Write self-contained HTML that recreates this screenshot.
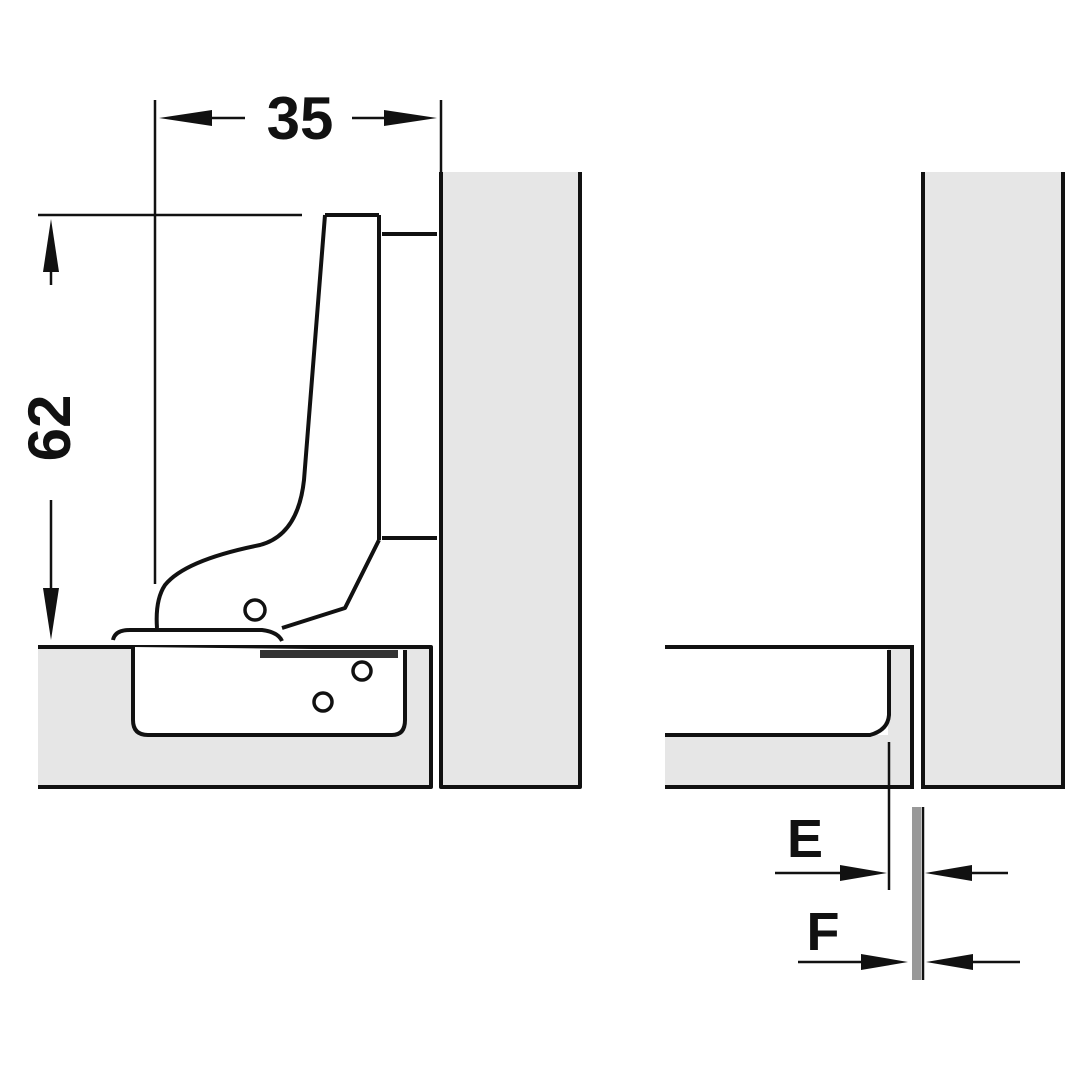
<!DOCTYPE html>
<html><head><style>html,body{margin:0;padding:0;background:#fff}</style></head>
<body>
<svg width="1080" height="1080" viewBox="0 0 1080 1080" xmlns="http://www.w3.org/2000/svg">
<g fill="none" stroke="#111" stroke-width="4" stroke-linejoin="round">
<!-- left door panel -->
<rect x="38" y="647" width="393" height="140" fill="#e6e6e6" stroke="none"/>
<path d="M38,647 H431 V787 H38"/>
<path d="M133,647 V720 Q133,735 148,735 H392 Q405,735 405,720 V650" fill="#fff"/>
<rect x="260" y="650" width="138" height="8" fill="#333" stroke="none"/>
<circle cx="362" cy="671" r="9" stroke-width="3.5"/>
<circle cx="323" cy="702" r="9" stroke-width="3.5"/>
<!-- cabinet panel left -->
<rect x="441" y="172" width="139" height="615" fill="#e6e6e6" stroke="none"/>
<path d="M441,172 V787 H580 V172" />
<!-- mounting plate -->
<path d="M382,234 H437 M382,538 H437" />
<path d="M379,215 V540"/>
<!-- hinge arm -->
<path d="M325,215 H379 M325,215 L304,480 Q298,535 260,545 Q185,560 165,585 Q155,600 157,628" />
<path d="M379,540 L345,608 L282,628"/>
<path d="M113,640 Q115,630 130,630 H262 Q278,632 282,641" />
<circle cx="255" cy="610" r="10" stroke-width="3.5"/>
</g>
<g stroke="#111" stroke-width="2.5" fill="none">
<line x1="155" y1="100" x2="155" y2="584"/>
<line x1="441" y1="100" x2="441" y2="172"/>
<line x1="38" y1="215" x2="302" y2="215"/>
<line x1="245" y1="118" x2="190" y2="118"/>
<line x1="352" y1="118" x2="408" y2="118"/>
<line x1="51" y1="285" x2="51" y2="245"/>
<line x1="51" y1="500" x2="51" y2="610"/>
<line x1="775" y1="873" x2="857" y2="873"/>
<line x1="1008" y1="873" x2="955" y2="873"/>
<line x1="798" y1="962" x2="878" y2="962"/>
<line x1="1020" y1="962" x2="956" y2="962"/>
</g>
<g fill="#111">
<path d="M159,118 L212,110 L212,126 Z"/>
<path d="M437,118 L384,110 L384,126 Z"/>
<path d="M51,219 L43,272 L59,272 Z"/>
<path d="M51,640 L43,588 L59,588 Z"/>
<path d="M887,873 L840,865 L840,881 Z"/>
<path d="M925,873 L972,865 L972,881 Z"/>
<path d="M908,962 L861,954 L861,970 Z"/>
<path d="M926,962 L973,954 L973,970 Z"/>
</g>
<text x="300" y="139" font-family="Liberation Sans, sans-serif" font-size="60" font-weight="bold" text-anchor="middle" fill="#111">35</text>
<text transform="translate(70,428) rotate(-90)" font-family="Liberation Sans, sans-serif" font-size="60" font-weight="bold" text-anchor="middle" fill="#111">62</text>
<!-- right part -->
<g fill="none" stroke="#111" stroke-width="4">
<rect x="923" y="172" width="140" height="615" fill="#e6e6e6" stroke="none"/>
<path d="M923,172 V787 H1063 V172"/>
<rect x="665" y="735" width="247" height="52" fill="#e6e6e6" stroke="none"/>
<rect x="888" y="647" width="24" height="140" fill="#e6e6e6" stroke="none"/>
<path d="M665,647 H912 V787 H665"/>
<path d="M665,735 H870 Q888,730 889,715 V650" fill="none"/>
</g>
<g stroke="#111" stroke-width="2.5">
<line x1="889" y1="742" x2="889" y2="890"/>
<rect x="912" y="807" width="9" height="173" fill="#999" stroke="none"/>
<line x1="923" y1="807" x2="923" y2="980"/>
</g>
<text x="805" y="857" font-family="Liberation Sans, sans-serif" font-size="54" font-weight="bold" text-anchor="middle" fill="#111">E</text>
<text x="823" y="950" font-family="Liberation Sans, sans-serif" font-size="54" font-weight="bold" text-anchor="middle" fill="#111">F</text>
</svg>
</body></html>
